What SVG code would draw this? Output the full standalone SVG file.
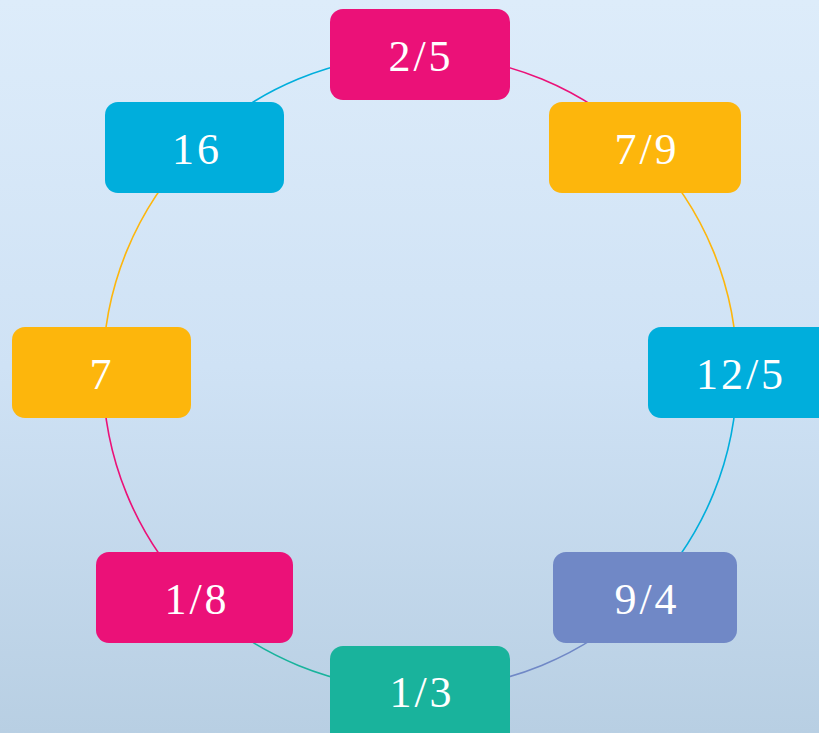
<svg xmlns="http://www.w3.org/2000/svg" width="819" height="733" viewBox="0 0 819 733">
<defs>
<linearGradient id="bg" x1="0" y1="0" x2="0" y2="1">
<stop offset="0" stop-color="#DDECFA"/>
<stop offset="0.5" stop-color="#CFE2F5"/>
<stop offset="1" stop-color="#B8CFE3"/>
</linearGradient>
</defs>
<style>
.n text{font-family:"Liberation Serif","DejaVu Serif",serif;font-size:44px;fill:#fff;text-anchor:middle;letter-spacing:3px}
.arc{fill:none;stroke-width:1.6}
</style>
<rect width="819" height="733" fill="url(#bg)"/>
<g id="connectors">
<path class="arc" stroke="#EB1178" d="M420 55 A317 317 0 0 1 645 148"/>
<path class="arc" stroke="#FDB60C" d="M645 148 A317 317 0 0 1 737 372"/>
<path class="arc" stroke="#00AEDC" d="M737 372 A317 317 0 0 1 645 597"/>
<path class="arc" stroke="#7088C6" d="M645 597 A317 317 0 0 1 420 689"/>
<path class="arc" stroke="#19B39C" d="M420 689 A317 317 0 0 1 195 597"/>
<path class="arc" stroke="#EB1178" d="M195 597 A317 317 0 0 1 103 372"/>
<path class="arc" stroke="#FDB60C" d="M103 372 A317 317 0 0 1 195 148"/>
<path class="arc" stroke="#00AEDC" d="M195 148 A317 317 0 0 1 420 55"/>
</g>
<g id="n1" class="n"><rect x="330" y="9" width="180" height="91" rx="13" fill="#EB1178"/><text x="421" y="71">2/5</text></g>
<g id="n2" class="n"><rect x="549" y="102" width="192" height="91" rx="13" fill="#FDB60C"/><text x="647" y="164">7/9</text></g>
<g id="n3" class="n"><rect x="648" y="327" width="190" height="91" rx="13" fill="#00AEDC"/><text x="741" y="389">12/5</text></g>
<g id="n4" class="n"><rect x="553" y="552" width="184" height="91" rx="13" fill="#7088C6"/><text x="647" y="614">9/4</text></g>
<g id="n5" class="n"><rect x="330" y="646" width="180" height="100" rx="13" fill="#19B39C"/><text x="422" y="707">1/3</text></g>
<g id="n6" class="n"><rect x="96" y="552" width="197" height="91" rx="13" fill="#EB1178"/><text x="197" y="614">1/8</text></g>
<g id="n7" class="n"><rect x="12" y="327" width="179" height="91" rx="13" fill="#FDB60C"/><text x="102" y="389">7</text></g>
<g id="n8" class="n"><rect x="105" y="102" width="179" height="91" rx="13" fill="#00AEDC"/><text x="197" y="164">16</text></g>
</svg>
